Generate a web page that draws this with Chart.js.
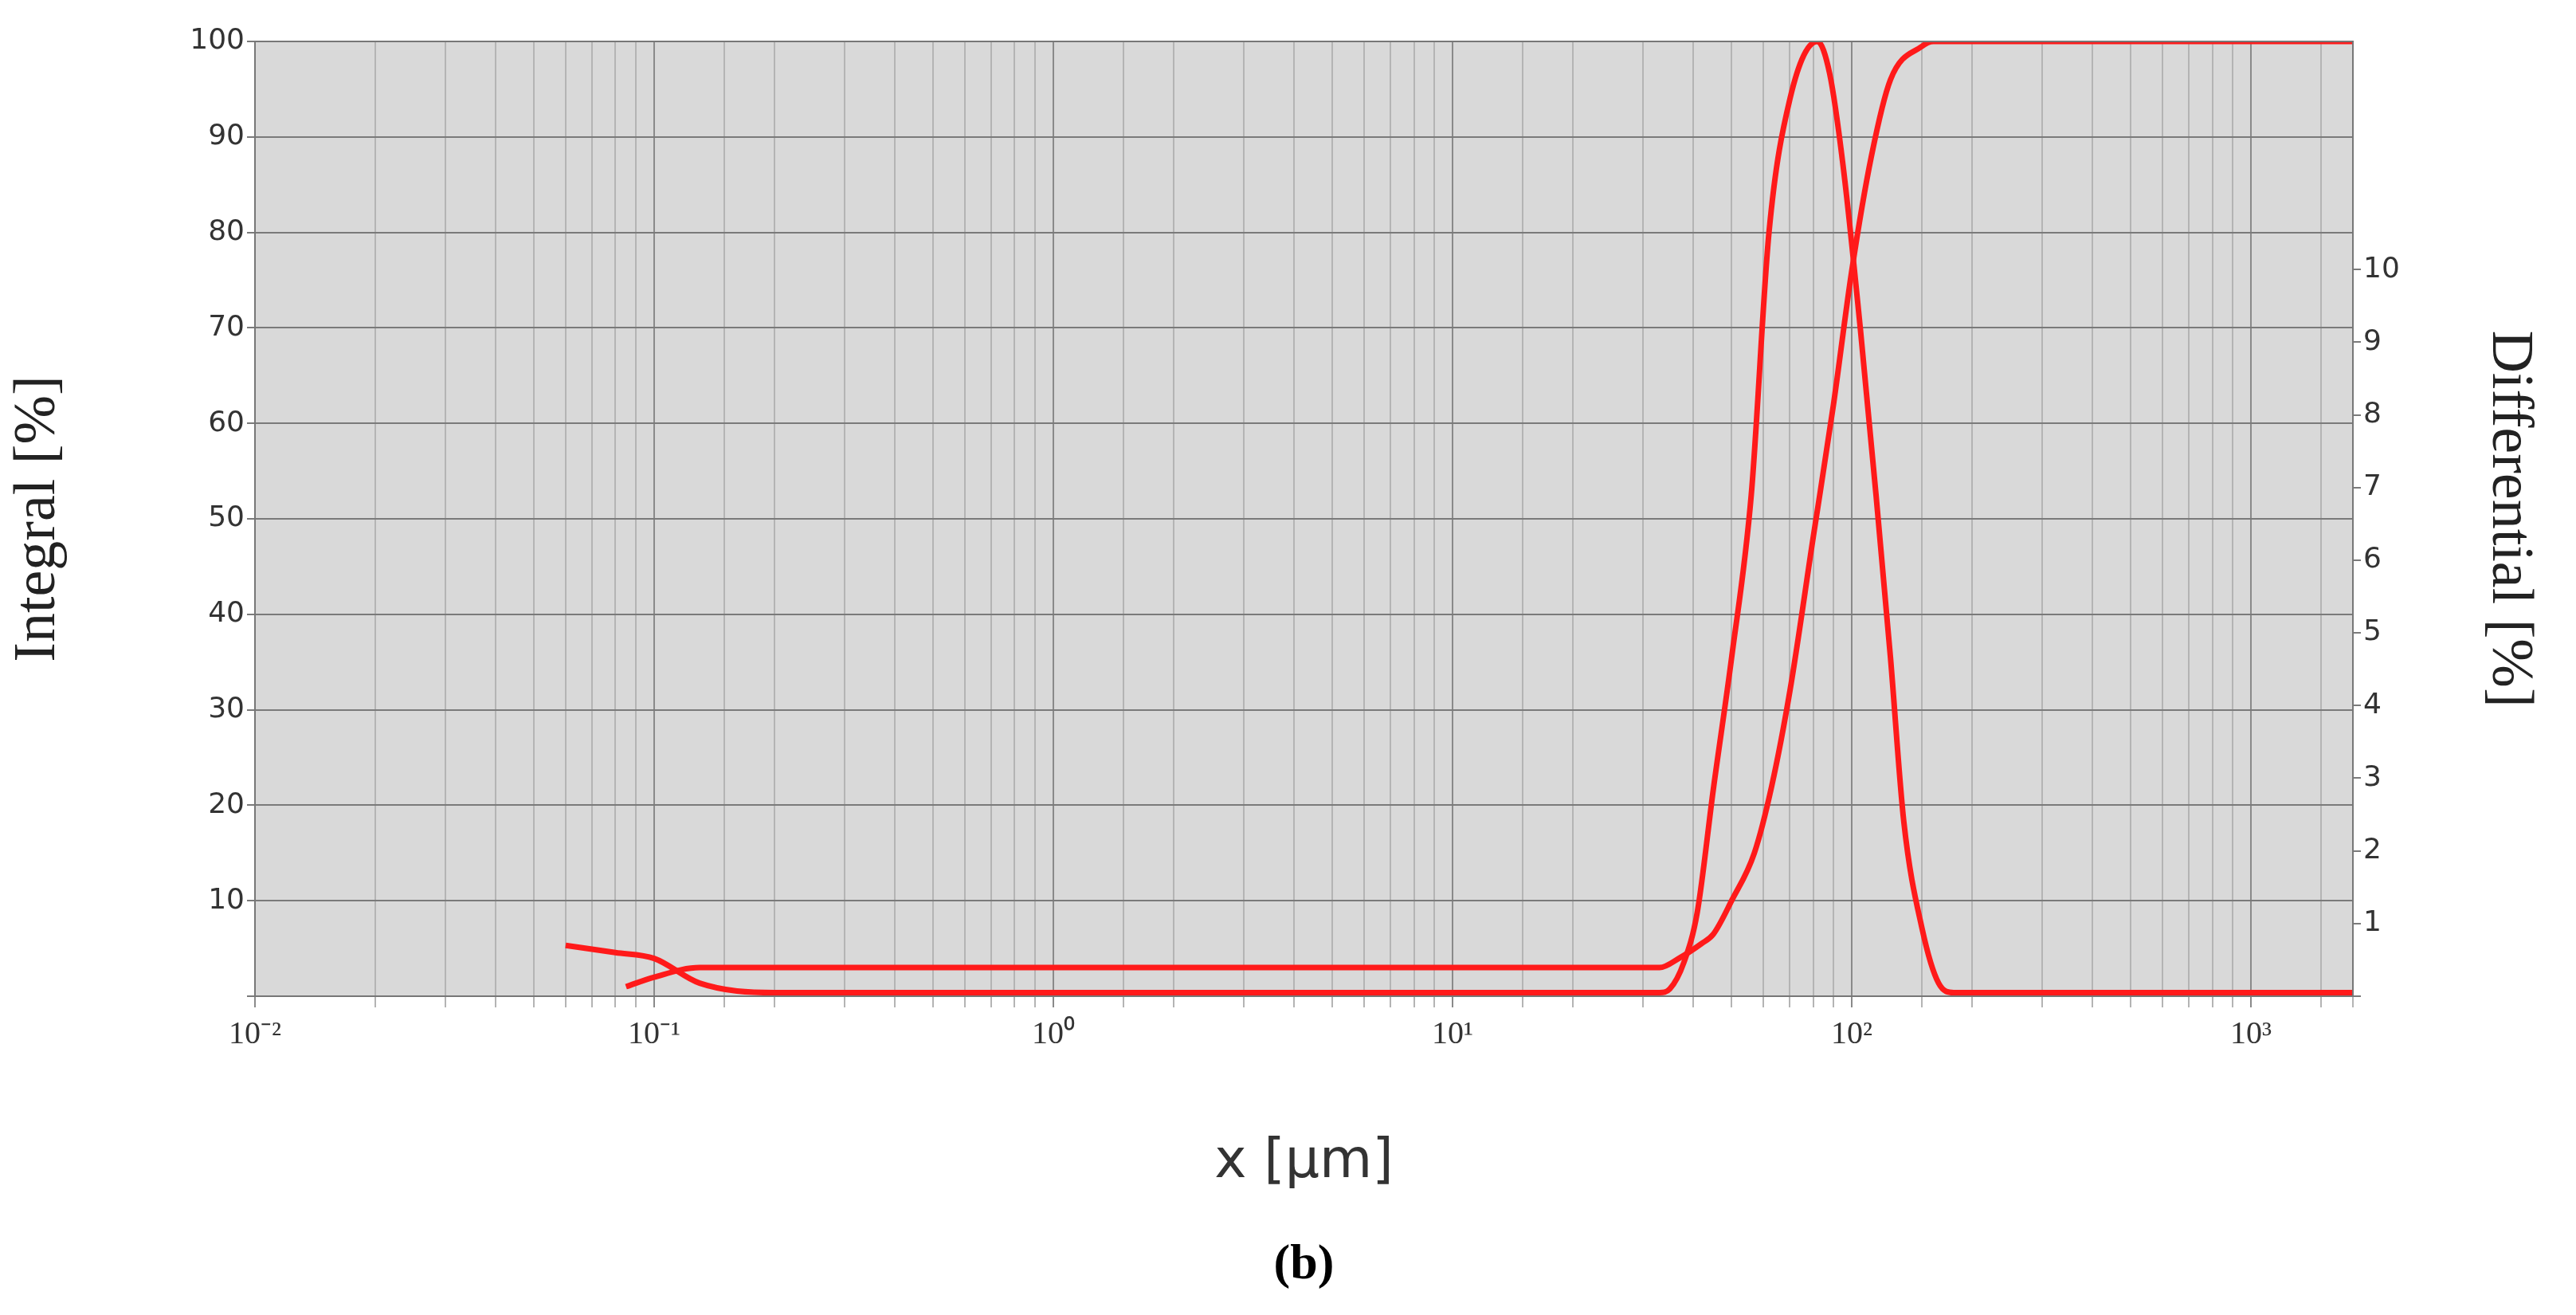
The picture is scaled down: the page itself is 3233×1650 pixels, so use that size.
<!DOCTYPE html>
<html>
<head>
<meta charset="utf-8">
<script src="https://cdn.jsdelivr.net/npm/chart.js@4"></script>
<style>
  html, body { margin: 0; padding: 0; background: #fff; }
  canvas { display: block; }
</style>
</head>
<body>
<canvas id="c" width="3233" height="1650"></canvas>
<script>
// particle size x [µm]
const integralX = [0.085, 0.1, 0.13, 0.2, 1, 10, 33, 37, 42, 45, 50, 57, 63, 70, 80, 90, 100, 112, 125, 150, 160, 500, 1800];
const integralY = [1, 2, 3, 3, 3, 3, 3, 4, 5.5, 6.5, 10, 15, 22, 32, 48, 62, 76, 88, 96, 99.5, 100, 100, 100];

const diffX = [0.06, 0.08, 0.1, 0.13, 0.2, 1, 10, 33, 35, 38, 41, 45, 50, 56, 62, 70, 82, 88, 95, 105, 115, 125, 135, 150, 165, 180, 500, 1800];
const diffY = [0.7, 0.6, 0.52, 0.18, 0.05, 0.05, 0.05, 0.05, 0.1, 0.47, 1.15, 2.85, 4.66, 6.9, 10.5, 12.35, 13.14, 12.7, 11.45, 9.2, 6.9, 4.66, 2.4, 0.93, 0.18, 0.05, 0.05, 0.05];

const decadeLabels = { '-2': '10⁻²', '-1': '10⁻¹', '0': '10⁰', '1': '10¹', '2': '10²', '3': '10³' };

const toPts = (xs, ys) => xs.map((x, i) => ({ x, y: ys[i] }));
const isDecade = v => Math.abs(Math.log10(v) - Math.round(Math.log10(v))) < 1e-6;

const plotBg = {
    id: 'plotBg',
    beforeDraw(chart) {
        const { ctx, chartArea: a } = chart;
        ctx.save();
        ctx.fillStyle = '#d9d9d9';
        ctx.fillRect(a.left, a.top, a.right - a.left, a.bottom - a.top);
        ctx.restore();
    },
    afterDraw(chart) {
        const { ctx, chartArea: a } = chart;
        ctx.save();
        ctx.strokeStyle = '#777';
        ctx.lineWidth = 2;
        ctx.strokeRect(a.left, a.top, a.right - a.left, a.bottom - a.top);
        ctx.fillStyle = '#000';
        ctx.font = "bold 62px 'Liberation Serif', serif";
        ctx.textAlign = 'center';
        ctx.textBaseline = 'middle';
        ctx.fillText('(b)', (a.left + a.right) / 2, 1588);
        ctx.restore();
    },
};

Chart.defaults.font.family = "'DejaVu Sans', sans-serif";
Chart.defaults.color = '#333';

new Chart(document.getElementById('c'), {
    type: 'line',
    data: {
        datasets: [
            { data: toPts(integralX, integralY), yAxisID: 'y', borderColor: '#ff1a1a', borderWidth: 7, pointRadius: 0, cubicInterpolationMode: 'monotone' },
            { data: toPts(diffX, diffY), yAxisID: 'y2', borderColor: '#ff1a1a', borderWidth: 7, pointRadius: 0, cubicInterpolationMode: 'monotone' },
        ],
    },
    options: {
        responsive: false,
        devicePixelRatio: 1,
        animation: false,
        layout: { padding: { top: 52, bottom: 150 } },
        plugins: { legend: { display: false }, tooltip: { enabled: false } },
        scales: {
            x: {
                type: 'logarithmic',
                min: 0.01, max: 1800,
                afterFit: s => { s.height = 250; },
                grid: {
                    color: c => (c.tick && isDecade(c.tick.value)) ? '#8a8a8a' : '#b4b4b4',
                    lineWidth: 2,
                    drawTicks: true, tickLength: 14,
                },
                border: { display: false },
                ticks: {
                    autoSkip: false, maxRotation: 0, padding: 10,
                    font: { size: 40, family: "'Liberation Serif', serif" },
                    callback: v => isDecade(v) ? (decadeLabels[String(Math.round(Math.log10(v)))] || '') : '',
                },
                title: { display: true, text: 'x [µm]', font: { size: 68 }, color: '#333', padding: { top: 40, bottom: 0 } },
            },
            y: {
                position: 'left',
                min: 0, max: 100,
                afterFit: s => { s.width = 320; },
                grid: { color: '#7a7a7a', lineWidth: 2, tickLength: 10 },
                border: { display: false },
                ticks: { stepSize: 10, font: { size: 36 }, callback: v => v === 0 ? '' : v },
                title: { display: true, text: 'Integral [%]', font: { size: 74, family: "'Liberation Serif', serif" }, color: '#222', padding: { bottom: 30 } },
            },
            y2: {
                position: 'right',
                min: 0, max: 13.14,
                afterFit: s => { s.width = 280; },
                grid: {
                    drawOnChartArea: false, tickLength: 10, lineWidth: 2,
                    tickColor: c => (c.tick && c.tick.value > 10) ? 'rgba(0,0,0,0)' : '#7a7a7a',
                },
                border: { display: false },
                ticks: { stepSize: 1, font: { size: 36 }, callback: v => (v >= 1 && v <= 10) ? v : '' },
                title: { display: true, text: 'Differential [%]', font: { size: 74, family: "'Liberation Serif', serif" }, color: '#222', padding: { top: 40 } },
            },
        },
    },
    plugins: [plotBg],
});
</script>
</body>
</html>
